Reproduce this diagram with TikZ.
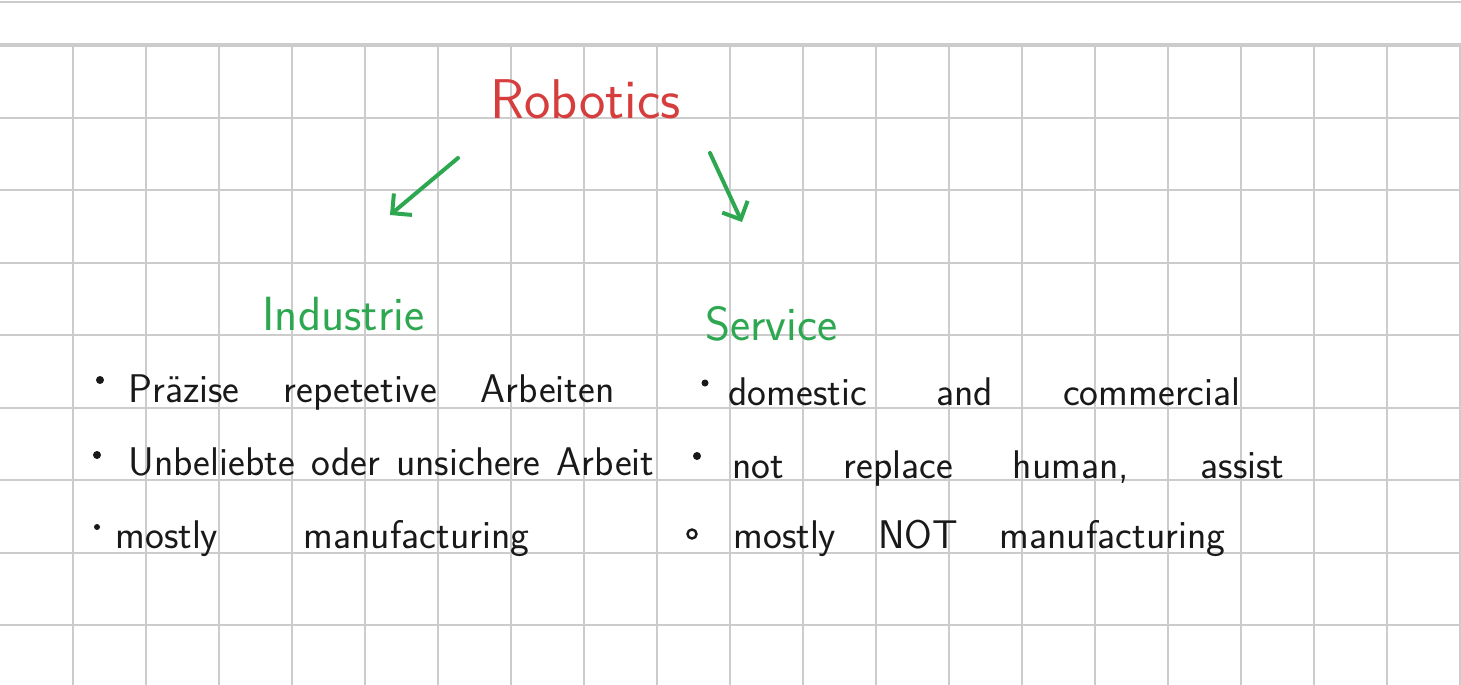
\documentclass[tikz,border=0pt]{standalone}
\usepackage{fontspec}
\usetikzlibrary{arrows.meta}
\definecolor{inkred}{RGB}{214,62,62}
\definecolor{inkgreen}{RGB}{46,168,80}
\definecolor{gridgray}{RGB}{204,204,204}
\newcommand{\spread}[2]{\makebox[#1][s]{#2}}
\tikzset{
  note/.style={font=\sffamily\fontsize{20}{22}\selectfont, anchor=base west, inner sep=0pt, text=black!90},
  head/.style={font=\sffamily\fontsize{24}{26}\selectfont, anchor=base west, inner sep=0pt, text=inkgreen},
  flow/.style={draw=inkgreen, line width=2pt, line cap=round, -{Straight Barb[length=7pt,width=14pt]}},
  dot/.style={fill=black!90},
}
\begin{document}
\begin{tikzpicture}[x=0.5pt,y=-0.5pt]
    \useasboundingbox (0,0) rectangle (1461,685);
    \fill[white] (0,0) rectangle (1461,685);
    % grid paper
    \draw[gridgray, line width=0.6pt] (0,2) -- (1461,2);
    \foreach \gx in {1,...,20} \draw[gridgray, line width=1pt] (73*\gx,45) -- (73*\gx,685);
    \foreach \gy in {1,...,8} \draw[gridgray, line width=1pt] (0,45+72.5*\gy) -- (1461,45+72.5*\gy);
    \draw[gridgray, line width=1.6pt] (0,45) -- (1461,45);
    % headings
    \node[note, font=\sffamily\fontsize{28}{30}\selectfont, text=inkred] (rob) at (490,118) {Robotics};
    \node[head] (ind) at (262,330) {Industrie};
    \node[head] (ser) at (705,340) {Service};
    \coordinate (indin) at (458,158);
    \coordinate (indtip) at (390,215);
    \coordinate (serin) at (710,153);
    \coordinate (sertip) at (742,222);
    \draw[flow] (indin) -- (indtip);
    \draw[flow] (serin) -- (sertip);
    % industry list
    \node[note] (i1) at (128,402) {\spread{243pt}{Präzise repetetive Arbeiten}};
    \node[note] (i2) at (128,475) {\spread{263pt}{Unbeliebte oder unsichere Arbeit}};
    \node[note] (i3) at (115,548) {\spread{207pt}{mostly manufacturing}};
    \fill[dot] (100,380) circle (4);
    \fill[dot] (97,455) circle (4);
    \fill[dot] (97,527) circle (3);
    % service list
    \node[note] (s1) at (728,405) {\spread{256pt}{domestic and commercial}};
    \node[note] (s2) at (732,478) {\spread{276pt}{not replace human, assist}};
    \node[note] (s3) at (733,548) {\spread{246pt}{mostly NOT manufacturing}};
    \fill[dot] (705,383) circle (3.5);
    \fill[dot] (697,456) circle (4);
    \draw[black!90, line width=1.2pt] (692,534) circle (4.5);
\end{tikzpicture}
\end{document}
